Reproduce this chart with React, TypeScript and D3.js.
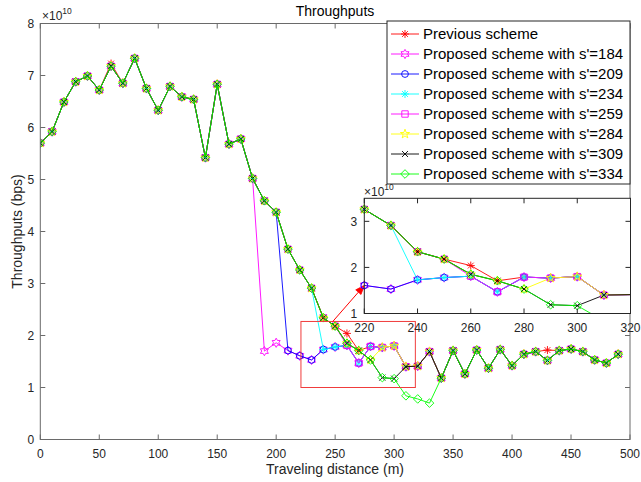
import React from 'react';
import * as d3 from 'd3';

// Traveling distance (m)
const distances = [0, 10, 20, 30, 40, 50, 60, 70, 80, 90, 100, 110, 120, 130, 140, 150, 160, 170, 180, 190, 200, 210, 220, 230, 240, 250, 260, 270, 280, 290, 300, 310, 320, 330, 340, 350, 360, 370, 380, 390, 400, 410, 420, 430, 440, 450, 460, 470, 480, 490];

// Throughputs in units of 1e10 bps
const previousScheme = [5.70, 5.92, 6.49, 6.88, 6.99, 6.72, 7.23, 6.85, 7.33, 6.75, 6.33, 6.79, 6.59, 6.54, 5.42, 6.83, 5.68, 5.78, 5.02, 4.59, 4.37, 3.66, 3.26, 2.91, 2.34, 2.18, 2.04, 1.71, 1.79, 1.77, 1.80, 1.40, 1.41, 1.69, 1.18, 1.71, 1.26, 1.72, 1.37, 1.73, 1.42, 1.64, 1.69, 1.72, 1.71, 1.74, 1.69, 1.53, 1.47, 1.64];
const proposed184 = [5.70, 5.92, 6.49, 6.88, 6.99, 6.72, 7.18, 6.85, 7.33, 6.75, 6.33, 6.79, 6.59, 6.54, 5.42, 6.83, 5.68, 5.78, 5.02, 1.70, 1.86, 1.71, 1.61, 1.53, 1.73, 1.78, 1.81, 1.47, 1.79, 1.77, 1.80, 1.40, 1.41, 1.69, 1.18, 1.71, 1.26, 1.72, 1.37, 1.73, 1.42, 1.64, 1.69, 1.52, 1.71, 1.74, 1.69, 1.53, 1.47, 1.64];
const proposed209 = [5.70, 5.92, 6.49, 6.88, 6.99, 6.72, 7.18, 6.85, 7.33, 6.75, 6.33, 6.79, 6.59, 6.54, 5.42, 6.83, 5.68, 5.78, 5.02, 4.59, 4.37, 1.71, 1.61, 1.53, 1.73, 1.78, 1.81, 1.47, 1.79, 1.77, 1.80, 1.40, 1.41, 1.69, 1.18, 1.71, 1.26, 1.72, 1.37, 1.73, 1.42, 1.64, 1.69, 1.52, 1.71, 1.74, 1.69, 1.53, 1.47, 1.64];
const proposed234 = [5.70, 5.92, 6.49, 6.88, 6.99, 6.72, 7.18, 6.85, 7.33, 6.75, 6.33, 6.79, 6.59, 6.54, 5.42, 6.83, 5.68, 5.78, 5.02, 4.59, 4.37, 3.66, 3.26, 2.91, 1.73, 1.78, 1.81, 1.47, 1.79, 1.77, 1.80, 1.40, 1.41, 1.69, 1.18, 1.71, 1.26, 1.72, 1.37, 1.73, 1.42, 1.64, 1.69, 1.52, 1.71, 1.74, 1.69, 1.53, 1.47, 1.64];
const proposed259 = [5.70, 5.92, 6.49, 6.88, 6.99, 6.72, 7.18, 6.85, 7.33, 6.75, 6.33, 6.79, 6.59, 6.54, 5.42, 6.83, 5.68, 5.78, 5.02, 4.59, 4.37, 3.66, 3.26, 2.91, 2.34, 2.18, 1.81, 1.47, 1.79, 1.77, 1.80, 1.40, 1.41, 1.69, 1.18, 1.71, 1.26, 1.72, 1.37, 1.73, 1.42, 1.64, 1.69, 1.52, 1.71, 1.74, 1.69, 1.53, 1.47, 1.64];
const proposed284 = [5.70, 5.92, 6.49, 6.88, 6.99, 6.72, 7.18, 6.85, 7.33, 6.75, 6.33, 6.79, 6.59, 6.54, 5.42, 6.83, 5.68, 5.78, 5.02, 4.59, 4.37, 3.66, 3.26, 2.91, 2.34, 2.18, 1.85, 1.71, 1.53, 1.77, 1.80, 1.40, 1.41, 1.69, 1.18, 1.71, 1.26, 1.72, 1.37, 1.73, 1.42, 1.64, 1.69, 1.52, 1.71, 1.74, 1.69, 1.53, 1.47, 1.64];
const proposed309 = [5.70, 5.92, 6.49, 6.88, 6.99, 6.72, 7.18, 6.85, 7.33, 6.75, 6.33, 6.79, 6.59, 6.54, 5.42, 6.83, 5.68, 5.78, 5.02, 4.59, 4.37, 3.66, 3.26, 2.91, 2.34, 2.18, 1.85, 1.71, 1.53, 1.19, 1.17, 1.40, 1.41, 1.69, 1.18, 1.71, 1.26, 1.72, 1.37, 1.73, 1.42, 1.64, 1.69, 1.52, 1.71, 1.74, 1.69, 1.53, 1.47, 1.64];
const proposed334 = [5.70, 5.92, 6.49, 6.88, 6.99, 6.72, 7.18, 6.85, 7.33, 6.75, 6.33, 6.79, 6.59, 6.54, 5.42, 6.83, 5.68, 5.78, 5.02, 4.59, 4.37, 3.66, 3.26, 2.91, 2.34, 2.18, 1.85, 1.71, 1.53, 1.19, 1.17, 0.84, 0.78, 0.70, 1.18, 1.71, 1.26, 1.72, 1.37, 1.73, 1.42, 1.64, 1.69, 1.52, 1.71, 1.74, 1.69, 1.53, 1.47, 1.64];

const seriesNames = ['Previous scheme', "Proposed scheme with s'=184", "Proposed scheme with s'=209", "Proposed scheme with s'=234", "Proposed scheme with s'=259", "Proposed scheme with s'=284", "Proposed scheme with s'=309", "Proposed scheme with s'=334"];
const seriesValues = [previousScheme, proposed184, proposed209, proposed234, proposed259, proposed284, proposed309, proposed334];
const seriesColors = ['#ff0000', '#ff00ff', '#0000ff', '#00ffff', '#ff00ff', '#ffff00', '#000000', '#00ff00'];
const seriesMarkers = ['asterisk', 'hexagram', 'circle', 'asterisk', 'square', 'pentagram', 'x', 'diamond'];

const xTicks = [0, 50, 100, 150, 200, 250, 300, 350, 400, 450, 500];
const yTicks = [0, 1, 2, 3, 4, 5, 6, 7, 8];
const insetXTicks = [220, 240, 260, 280, 300, 320];
const insetYTicks = [1, 2, 3];
// zoom region (data units) and arrow target
const zoomBox = { x0: 221, x1: 318, y0: 1.0, y1: 2.27 };

const FONT = "'Liberation Sans', Arial, Helvetica, sans-serif";
const TXT = '#262626';

function starPath(n: number, R: number, r: number): string {
  const pts: string[] = [];
  for (let i = 0; i < 2 * n; i++) {
    const a = -Math.PI / 2 + (i * Math.PI) / n;
    const rad = i % 2 === 0 ? R : r;
    pts.push(`${(Math.cos(a) * rad).toFixed(2)},${(Math.sin(a) * rad).toFixed(2)}`);
  }
  return 'M' + pts.join('L') + 'Z';
}

function markerPath(kind: string): string {
  switch (kind) {
    case 'asterisk': {
      const s = 4, k = 2.9;
      return `M${-s},0H${s}M0,${-s}V${s}M${-k},${-k}L${k},${k}M${-k},${k}L${k},${-k}`;
    }
    case 'circle': {
      const r = 3.4;
      return `M${r},0A${r},${r},0,1,1,${-r},0A${r},${r},0,1,1,${r},0Z`;
    }
    case 'square': {
      const h = 3.2;
      return `M${-h},${-h}H${h}V${h}H${-h}Z`;
    }
    case 'diamond': {
      const d = 4.3;
      return `M0,${-d}L${d},0L0,${d}L${-d},0Z`;
    }
    case 'x': {
      const h = 3;
      return `M${-h},${-h}L${h},${h}M${-h},${h}L${h},${-h}`;
    }
    case 'pentagram':
      return starPath(5, 4.8, 1.9);
    case 'hexagram':
      return starPath(6, 4.6, 2.65);
    default:
      return '';
  }
}

export default function App() {
  const W = 641, H = 482;
  const x = d3.scaleLinear().domain([0, 500]).range([40.3, 630]);
  const y = d3.scaleLinear().domain([0, 8]).range([439.5, 23.5]);
  const ix = d3.scaleLinear().domain([220, 320]).range([364.3, 630.5]);
  const iy = d3.scaleLinear().domain([1, 3.5]).range([313.5, 198.3]);

  const mainLine = d3.line<number>().x((_, i) => x(distances[i])).y((v) => y(v));
  const insetLine = d3.line<number>().x((_, i) => ix(distances[i])).y((v) => iy(v));

  const [px0, px1] = x.range();
  const [py0, py1] = y.range();
  const [ipx0, ipx1] = ix.range();
  const [ipy0, ipy1] = iy.range();

  // arrow from zoom box top to the inset point at 220
  const ax0 = x(248), ay0 = y(zoomBox.y1);
  const ax1 = ix(220), ay1 = iy(proposed209[22]);
  const ang = Math.atan2(ay1 - ay0, ax1 - ax0);
  const hl = 9, hw = 3.5;
  const bx = ax1 - Math.cos(ang) * hl, by = ay1 - Math.sin(ang) * hl;
  const head = `M${ax1},${ay1}L${bx - Math.sin(ang) * hw},${by + Math.cos(ang) * hw}L${bx + Math.sin(ang) * hw},${by - Math.cos(ang) * hw}Z`;

  const legendX = 387, legendY = 21, legendW = 243, legendH = 163;

  return (
    <svg width={W} height={H} style={{ position: 'absolute', left: 0, top: 0, background: '#fff' }} fontFamily={FONT}>
      <defs>
        <clipPath id="mainClip">
          <rect x={px0} y={py1} width={px1 - px0} height={py0 - py1} />
        </clipPath>
        <clipPath id="insetClip">
          <rect x={ipx0} y={ipy1} width={ipx1 - ipx0} height={ipy0 - ipy1} />
        </clipPath>
      </defs>
      <rect x={0} y={0} width={W} height={H} fill="#fff" />

      {/* main series */}
      <g clipPath="url(#mainClip)">
        {seriesValues.map((vals, si) => (
          <g key={si}>
            <path d={mainLine(vals) || ''} fill="none" stroke={seriesColors[si]} strokeWidth={0.9} />
            {vals.map((v, i) => (
              <path key={i} d={markerPath(seriesMarkers[si])} transform={`translate(${x(distances[i])},${y(v)})`} fill="none" stroke={seriesColors[si]} strokeWidth={0.9} />
            ))}
          </g>
        ))}
      </g>

      {/* main axes box */}
      <g stroke="#6a6a6a" strokeWidth={1} fill="none">
        <rect x={px0} y={py1} width={px1 - px0} height={py0 - py1} />
        {xTicks.map((t) => (
          <g key={t}>
            <line x1={x(t)} x2={x(t)} y1={py0} y2={py0 - 5} />
            <line x1={x(t)} x2={x(t)} y1={py1} y2={py1 + 5} />
          </g>
        ))}
        {yTicks.map((t) => (
          <g key={t}>
            <line x1={px0} x2={px0 + 5} y1={y(t)} y2={y(t)} />
            <line x1={px1} x2={px1 - 5} y1={y(t)} y2={y(t)} />
          </g>
        ))}
      </g>
      <g fontSize={12} fill={TXT}>
        {xTicks.map((t) => (
          <text key={t} x={x(t)} y={458} textAnchor="middle">{t}</text>
        ))}
        {yTicks.map((t) => (
          <text key={t} x={px0 - 6} y={y(t) + 4.3} textAnchor="end">{t}</text>
        ))}
        <text x={42} y={20}>×10<tspan dy={-6} fontSize={8.5}>10</tspan></text>
      </g>
      <text x={335} y={16} fontSize={14} textAnchor="middle" fill="#000">Throughputs</text>
      <text x={335} y={474} fontSize={14} textAnchor="middle" fill={TXT}>Traveling distance (m)</text>
      <text transform={`translate(22,${(py0 + py1) / 2}) rotate(-90)`} fontSize={14} textAnchor="middle" fill={TXT}>Throughputs (bps)</text>

      {/* zoom box and arrow */}
      <rect x={x(zoomBox.x0)} y={y(zoomBox.y1)} width={x(zoomBox.x1) - x(zoomBox.x0)} height={y(zoomBox.y0) - y(zoomBox.y1)} fill="none" stroke="#f03c3c" strokeWidth={1} />
      <line x1={ax0} y1={ay0} x2={bx} y2={by} stroke="#ff0000" strokeWidth={1} />
      <path d={head} fill="#ff0000" stroke="#ff0000" strokeWidth={0.8} />

      {/* inset */}
      <rect x={ipx0} y={ipy1} width={ipx1 - ipx0} height={ipy0 - ipy1} fill="#fff" />
      <g clipPath="url(#insetClip)">
        {seriesValues.map((vals, si) => (
          <g key={si}>
            <path d={insetLine(vals) || ''} fill="none" stroke={seriesColors[si]} strokeWidth={0.9} />
          </g>
        ))}
      </g>
      <g>
        {seriesValues.map((vals, si) => (
          <g key={si}>
            {vals.map((v, i) =>
              distances[i] >= 220 && distances[i] < 320 && v >= 1 && v <= 3.5 ? (
                <path key={i} d={markerPath(seriesMarkers[si])} transform={`translate(${ix(distances[i])},${iy(v)})`} fill="none" stroke={seriesColors[si]} strokeWidth={0.9} />
              ) : null
            )}
          </g>
        ))}
      </g>
      <g stroke="#262626" strokeWidth={1} fill="none">
        <rect x={ipx0} y={ipy1} width={ipx1 - ipx0} height={ipy0 - ipy1} />
        {insetXTicks.map((t) => (
          <g key={t}>
            <line x1={ix(t)} x2={ix(t)} y1={ipy0} y2={ipy0 - 5} />
            <line x1={ix(t)} x2={ix(t)} y1={ipy1} y2={ipy1 + 5} />
          </g>
        ))}
        {insetYTicks.map((t) => (
          <g key={t}>
            <line x1={ipx0} x2={ipx0 + 5} y1={iy(t)} y2={iy(t)} />
            <line x1={ipx1} x2={ipx1 - 5} y1={iy(t)} y2={iy(t)} />
          </g>
        ))}
      </g>
      <g fontSize={12} fill={TXT}>
        {insetXTicks.map((t) => (
          <text key={t} x={ix(t)} y={332} textAnchor="middle">{t}</text>
        ))}
        {insetYTicks.map((t) => (
          <text key={t} x={ipx0 - 7} y={iy(t) + 4.3} textAnchor="end">{t}</text>
        ))}
        <text x={364} y={196}>×10<tspan dy={-6} fontSize={8.5}>10</tspan></text>
      </g>

      {/* legend */}
      <rect x={legendX} y={legendY} width={legendW} height={legendH} fill="#fff" stroke="#262626" strokeWidth={1} />
      {seriesNames.map((name, si) => {
        const ry = 34 + si * 20;
        return (
          <g key={si}>
            <line x1={391} x2={419} y1={ry} y2={ry} stroke={seriesColors[si]} strokeWidth={0.9} />
            <path d={markerPath(seriesMarkers[si])} transform={`translate(405,${ry})`} fill="none" stroke={seriesColors[si]} strokeWidth={0.9} />
            <text x={423} y={ry + 5.3} fontSize={15} fill="#000">{name}</text>
          </g>
        );
      })}
    </svg>
  );
}
